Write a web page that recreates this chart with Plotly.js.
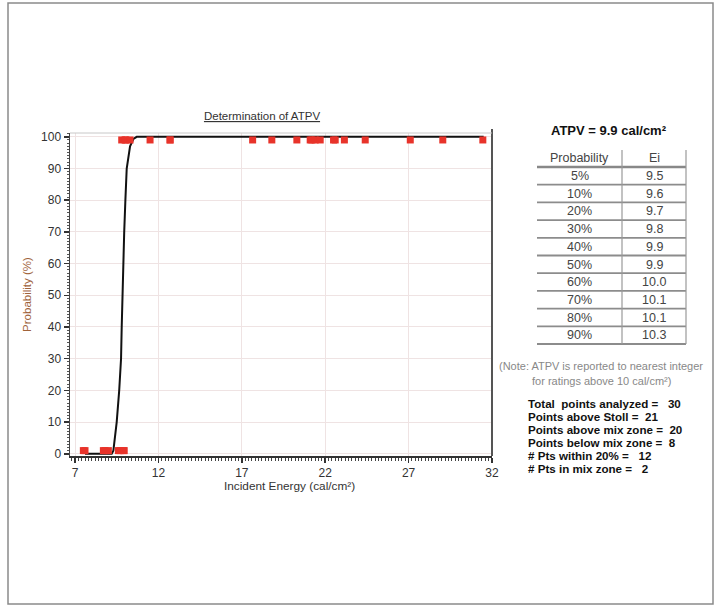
<!DOCTYPE html>
<html>
<head>
<meta charset="utf-8">
<script src="https://cdn.plot.ly/plotly-3.0.1.min.js"></script>
<style>
  html, body { margin: 0; padding: 0; background: #fff; }
  #chart { width: 716px; height: 607px; }
</style>
</head>
<body>
<div id="chart"></div>
<script>
// ---- Data ----
// Test results: breakopen/burn outcome plotted at 99 (yes) or 1 (no)
const topEnergies = [9.8, 10.0, 10.05, 10.3, 11.5, 12.7, 12.7, 17.65, 18.8, 20.3, 21.1, 21.2, 21.4, 21.7, 22.5, 22.6, 23.15, 24.4, 27.1, 29.05, 31.45];
const topProb = topEnergies.map(() => 99);
const bottomEnergies = [7.5, 7.6, 8.7, 8.8, 9.0, 9.6, 9.7, 9.9, 9.95];
const bottomProb = bottomEnergies.map(() => 1);

// Fitted probability curve
const curveEnergy = [7.6, 9.2, 9.3, 9.5, 9.65, 9.76, 9.8, 9.84, 9.87, 9.95, 10.02, 10.1, 10.3, 10.5, 10.7, 31.5];
const curveProb   = [0,   0,   1,   10,  20,   30,   40,  50,   60,   70,   80,    90,   97,   99.3, 100,  100];

// Axis ticks
const xTicks = [7, 12, 17, 22, 27, 32];
const yTicks = [0, 10, 20, 30, 40, 50, 60, 70, 80, 90, 100];
const xTitle = 'Incident Energy (cal/cm²)';
const yTitle = 'Probability (%)';

// Table
const probLabels = ['5%', '10%', '20%', '30%', '40%', '50%', '60%', '70%', '80%', '90%'];
const eiValues   = ['9.5', '9.6', '9.7', '9.8', '9.9', '9.9', '10.0', '10.1', '10.1', '10.3'];
const atpvText = 'ATPV = 9.9 cal/cm²';
const noteLines = ['(Note: ATPV is reported to nearest integer', 'for ratings above 10 cal/cm²)'];
const statLines = [
  'Total  points analyzed =   30',
  'Points above Stoll =  21',
  'Points above mix zone =  20',
  'Points below mix zone =  8',
  '# Pts within 20% =   12',
  '# Pts in mix zone =   2'
];

// ---- Layout helpers (pixel -> paper) ----
const L = 70, R = 492, T = 133, B = 456;
const px = x => (x - L) / (R - L);
const py = y => (B - y) / (B - T);

const shapes = [];
const annotations = [];

// outer frame
shapes.push({type: 'rect', xref: 'paper', yref: 'paper',
  x0: px(8), x1: px(713), y0: py(604), y1: py(3),
  line: {color: '#8a8a8a', width: 1.5}});
// plot right border and top border
shapes.push({type: 'line', xref: 'paper', yref: 'paper', x0: 1, x1: 1, y0: 0, y1: py(129),
  line: {color: '#555', width: 2}});
shapes.push({type: 'line', xref: 'paper', yref: 'paper', x0: 0, x1: 1, y0: 1, y1: 1,
  line: {color: '#c8c8c8', width: 1}});

// x axis title
annotations.push({xref: 'paper', yref: 'paper', x: px(289), y: py(486), text: xTitle,
  showarrow: false, xanchor: 'center', yanchor: 'middle',
  font: {family: 'Liberation Sans, Arial, sans-serif', size: 11.8, color: '#333'}});

// ATPV heading
annotations.push({xref: 'paper', yref: 'paper', x: px(609), y: py(131), text: '<b>' + atpvText + '</b>',
  showarrow: false, xanchor: 'center', yanchor: 'middle',
  font: {family: 'Liberation Sans, Arial, sans-serif', size: 13, color: '#111'}});

// Table
const tL = 537, tM = 622, tR = 686;
const headY = 158, row0 = 176, rowH = 17.7;
const tableFont = {family: 'Liberation Sans, Arial, sans-serif', size: 12.5, color: '#444'};
annotations.push({xref: 'paper', yref: 'paper', x: px((tL + tM) / 2), y: py(headY), text: 'Probability',
  showarrow: false, xanchor: 'center', yanchor: 'middle', font: tableFont});
annotations.push({xref: 'paper', yref: 'paper', x: px((tM + tR) / 2), y: py(headY), text: 'Ei',
  showarrow: false, xanchor: 'center', yanchor: 'middle', font: tableFont});
probLabels.forEach((p, i) => {
  const yc = row0 + rowH * i;
  annotations.push({xref: 'paper', yref: 'paper', x: px((tL + tM) / 2), y: py(yc), text: p,
    showarrow: false, xanchor: 'center', yanchor: 'middle', font: tableFont});
  annotations.push({xref: 'paper', yref: 'paper', x: px((tM + tR) / 2), y: py(yc), text: eiValues[i],
    showarrow: false, xanchor: 'center', yanchor: 'middle', font: tableFont});
});
// table lines
const headLine = headY + 9;
shapes.push({type: 'line', xref: 'paper', yref: 'paper', x0: px(tL), x1: px(tR), y0: py(headLine), y1: py(headLine),
  line: {color: '#888', width: 2.5}});
for (let k = 1; k <= probLabels.length; k++) {
  const yl = headLine + rowH * k;
  shapes.push({type: 'line', xref: 'paper', yref: 'paper', x0: px(tL), x1: px(tR), y0: py(yl), y1: py(yl),
    line: {color: '#8c8c8c', width: 1.8}});
}
const tableBottom = headLine + rowH * probLabels.length;
shapes.push({type: 'line', xref: 'paper', yref: 'paper', x0: px(tM), x1: px(tM), y0: py(150), y1: py(tableBottom),
  line: {color: '#999', width: 1.2}});
shapes.push({type: 'line', xref: 'paper', yref: 'paper', x0: px(tR), x1: px(tR), y0: py(150), y1: py(tableBottom),
  line: {color: '#999', width: 1.2}});

// note
noteLines.forEach((t, i) => {
  annotations.push({xref: 'paper', yref: 'paper', x: px(601), y: py(366 + 15 * i), text: t,
    showarrow: false, xanchor: 'center', yanchor: 'middle',
    font: {family: 'Liberation Sans Narrow, Liberation Sans, Arial, sans-serif', size: 11, color: '#888'}});
});
// stats
statLines.forEach((t, i) => {
  annotations.push({xref: 'paper', yref: 'paper', x: px(526), y: py(403 + 13 * i), text: '<b>' + t + '</b>',
    showarrow: false, xanchor: 'left', yanchor: 'middle',
    font: {family: 'Liberation Sans, Arial, sans-serif', size: 11.6, color: '#111'}});
});

const traces = [
  {x: curveEnergy, y: curveProb, type: 'scatter', mode: 'lines',
   line: {color: '#111', width: 2}, hoverinfo: 'skip'},
  {x: topEnergies, y: topProb, type: 'scatter', mode: 'markers',
   marker: {symbol: 'square', size: 7, color: '#e8332a'}},
  {x: bottomEnergies, y: bottomProb, type: 'scatter', mode: 'markers',
   marker: {symbol: 'square', size: 7, color: '#e8332a'}}
];

const layout = {
  width: 716, height: 607,
  margin: {l: L, r: 716 - R, t: T, b: 607 - B},
  paper_bgcolor: '#fff', plot_bgcolor: '#fff',
  showlegend: false,
  font: {family: 'Liberation Sans, Arial, sans-serif', size: 11, color: '#333'},
  title: {text: '<u>Determination of ATPV</u>', x: 262 / 716, xanchor: 'center',
    y: 1 - 116 / 607, yanchor: 'middle', yref: 'container',
    font: {family: 'Liberation Sans, Arial, sans-serif', size: 11.5, color: '#333'}},
  xaxis: {
    range: [6.7, 32], tickvals: xTicks, ticktext: xTicks.map(String),
    showgrid: true, gridcolor: '#efe3e3', gridwidth: 1, zeroline: false,
    showline: true, linecolor: '#333', linewidth: 2,
    ticks: 'outside', ticklen: 5, tickwidth: 1.5, tickcolor: '#333',
    minor: {dtick: 0.2, tick0: 7, ticks: 'outside', ticklen: 2.5, tickcolor: '#444', tickwidth: 1, showgrid: false},
    tickfont: {size: 12, color: '#333'}
  },
  yaxis: {
    range: [-0.7, 101.2], tickvals: yTicks, ticktext: yTicks.map(String),
    showgrid: true, gridcolor: '#efe3e3', gridwidth: 1, zeroline: false,
    showline: true, linecolor: '#444', linewidth: 1.5,
    ticks: 'outside', ticklen: 5, tickwidth: 1.5, tickcolor: '#333',
    minor: {dtick: 1, tick0: 0, ticks: 'outside', ticklen: 2, tickcolor: '#555', tickwidth: 1, showgrid: false},
    tickfont: {size: 12, color: '#333'},
    title: {text: yTitle, standoff: 7, font: {size: 11.5, color: '#a0633a'}}
  },
  shapes: shapes,
  annotations: annotations
};

Plotly.newPlot('chart', traces, layout, {displayModeBar: false, staticPlot: true});
</script>
</body>
</html>
